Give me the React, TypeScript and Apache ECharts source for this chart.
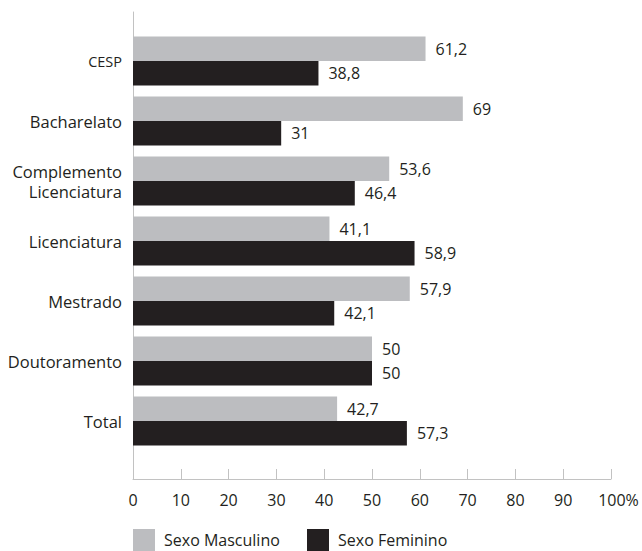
import React, { useEffect, useRef } from "react";
import * as echarts from "echarts";

// Education levels, top to bottom
const categories = [
  "CESP",
  "Bacharelato",
  "Complemento\nLicenciatura",
  "Licenciatura",
  "Mestrado",
  "Doutoramento",
  "Total",
];

// Share of each sex per level (%)
const masculino = [61.2, 69, 53.6, 41.1, 57.9, 50, 42.7];
const feminino = [38.8, 31, 46.4, 58.9, 42.1, 50, 57.3];

const xTicks = [0, 10, 20, 30, 40, 50, 60, 70, 80, 90, 100];

const seriesNames = ["Sexo Masculino", "Sexo Feminino"];

const GRAY = "#bcbdc0";
const DARK = "#231f20";
const AXIS = "#c2c2c2";
const FONT = "'Open Sans', 'Noto Sans', sans-serif";

const fmt = (v: number) => String(v).replace(".", ",");

export default function App() {
  const ref = useRef<HTMLDivElement>(null);

  useEffect(() => {
    if (!ref.current) return;
    const chart = echarts.init(ref.current, undefined, { renderer: "svg" });

    const valueLabel = {
      show: true,
      position: "right",
      distance: 10,
      color: DARK,
      fontFamily: FONT,
      fontSize: 16,
      formatter: (p: any) => fmt(p.value),
    };

    const legendBase = {
      top: 529,
      padding: 0,
      icon: "rect",
      itemWidth: 22,
      itemHeight: 22,
      textStyle: { color: DARK, fontFamily: FONT, fontSize: 16, padding: [0, 0, 0, 4] },
    };

    chart.setOption({
      animation: false,
      backgroundColor: "#ffffff",
      textStyle: { fontFamily: FONT, color: DARK },
      grid: [
        // bars
        { left: 133, width: 478, top: 31, height: 420, containLabel: false },
        // frame axes
        { left: 133, width: 478, top: 12, height: 467, containLabel: false },
      ],
      legend: [
        { ...legendBase, left: 133, data: [seriesNames[0]] },
        { ...legendBase, left: 307, data: [seriesNames[1]] },
      ],
      xAxis: [
        {
          gridIndex: 0,
          type: "value",
          min: 0,
          max: 100,
          show: false,
        },
        {
          gridIndex: 1,
          type: "value",
          min: 0,
          max: 100,
          interval: 10,
          axisLine: { show: true, lineStyle: { color: AXIS, width: 1 } },
          axisTick: { show: true, inside: true, length: 10, lineStyle: { color: AXIS, width: 1 } },
          splitLine: { show: false },
          axisLabel: {
            margin: 13,
            color: DARK,
            fontFamily: FONT,
            fontSize: 16,
            customValues: xTicks,
            formatter: (v: number) => (v === 100 ? "{s|}100{p|%}" : String(v)),
            rich: {
              s: { width: 15 },
              p: { fontSize: 16, fontFamily: FONT, color: DARK },
            },
          },
        },
      ],
      yAxis: [
        {
          gridIndex: 0,
          type: "category",
          inverse: true,
          data: categories,
          axisLine: { show: false },
          axisTick: { show: false },
          axisLabel: {
            margin: 11,
            color: DARK,
            fontFamily: FONT,
            fontSize: 16.5,
            lineHeight: 20,
            formatter: (v: string) => (v === "CESP" ? "{c|CESP}" : v),
            rich: {
              c: { fontSize: 14.5, fontFamily: FONT, color: DARK },
            },
          },
        },
        {
          gridIndex: 1,
          type: "value",
          min: 0,
          max: 1,
          axisLine: { show: true, lineStyle: { color: AXIS, width: 1 } },
          axisTick: { show: false },
          axisLabel: { show: false },
          splitLine: { show: false },
        },
      ],
      series: [
        {
          name: seriesNames[0],
          type: "bar",
          xAxisIndex: 0,
          yAxisIndex: 0,
          data: masculino,
          barGap: "0%",
          barCategoryGap: "18%",
          itemStyle: { color: GRAY },
          label: valueLabel,
        },
        {
          name: seriesNames[1],
          type: "bar",
          xAxisIndex: 0,
          yAxisIndex: 0,
          data: feminino,
          barGap: "0%",
          barCategoryGap: "18%",
          itemStyle: { color: DARK },
          label: valueLabel,
        },
      ],
    });

    return () => chart.dispose();
  }, []);

  return <div ref={ref} style={{ width: 642, height: 551, position: "absolute", left: 0, top: 0 }} />;
}
